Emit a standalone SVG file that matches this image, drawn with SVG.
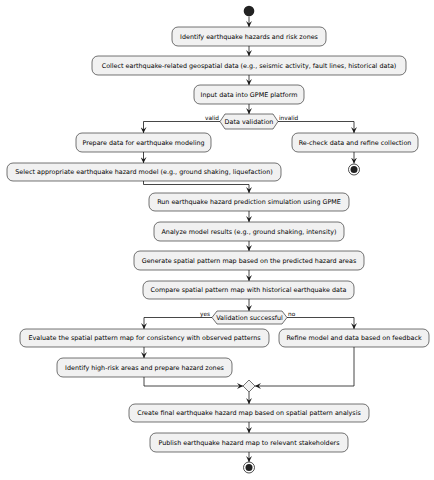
<svg xmlns="http://www.w3.org/2000/svg" width="434" height="480" viewBox="0 0 434 480">
<defs>
<style>
.box{fill:#F1F1F1;stroke:#181818;stroke-width:0.6}
.t{font-family:"DejaVu Sans",sans-serif;font-size:6.4px;fill:#000;text-anchor:middle}
.lbl{font-family:"DejaVu Sans",sans-serif;font-size:5.8px;fill:#000}
.ln{fill:none;stroke:#181818;stroke-width:0.8}
</style>
<marker id="ah" viewBox="0 0 10 10" refX="10" refY="5" markerWidth="6" markerHeight="6" markerUnits="userSpaceOnUse" orient="auto">
<path d="M0,0 L10,5 L0,10 L4,5 Z" fill="#181818"/>
</marker>
</defs>
<rect width="434" height="480" fill="#FFFFFF"/>
<g id="connectors" class="ln">
<line x1="249" y1="16.5" x2="249" y2="27" marker-end="url(#ah)"/>
<line x1="249" y1="46" x2="249" y2="56" marker-end="url(#ah)"/>
<line x1="249" y1="75" x2="249" y2="85" marker-end="url(#ah)"/>
<line x1="249" y1="104" x2="249" y2="114" marker-end="url(#ah)"/>
<polyline points="220,121.5 143.5,121.5 143.5,133" marker-end="url(#ah)"/>
<polyline points="278,121.5 354,121.5 354,133" marker-end="url(#ah)"/>
<line x1="354" y1="152" x2="354" y2="163.5" marker-end="url(#ah)"/>
<line x1="143.5" y1="152" x2="143.5" y2="163" marker-end="url(#ah)"/>
<polyline points="143.5,181 143.5,184.5 249,184.5 249,193" marker-end="url(#ah)"/>
<line x1="249" y1="211" x2="249" y2="222" marker-end="url(#ah)"/>
<line x1="249" y1="241" x2="249" y2="251" marker-end="url(#ah)"/>
<line x1="249" y1="270" x2="249" y2="281" marker-end="url(#ah)"/>
<line x1="249" y1="299" x2="249" y2="311" marker-end="url(#ah)"/>
<polyline points="212,317.5 144,317.5 144,329" marker-end="url(#ah)"/>
<polyline points="287,317.5 354,317.5 354,329" marker-end="url(#ah)"/>
<line x1="144" y1="347" x2="144" y2="358" marker-end="url(#ah)"/>
<polyline points="144,377 144,386 243,386" marker-end="url(#ah)"/>
<polyline points="354,347 354,386 255,386" marker-end="url(#ah)"/>
<line x1="249" y1="392" x2="249" y2="404" marker-end="url(#ah)"/>
<line x1="249" y1="422" x2="249" y2="433" marker-end="url(#ah)"/>
<line x1="249" y1="452" x2="249" y2="462" marker-end="url(#ah)"/>
</g>
<g id="start"><circle cx="249" cy="11" r="5.3" fill="#222222"/></g>
<g id="n1"><rect class="box" x="172" y="27" width="154" height="19" rx="6"/><text class="t" x="249" y="38.8">Identify earthquake hazards and risk zones</text></g>
<g id="n2"><rect class="box" x="92" y="56" width="314" height="19" rx="6"/><text class="t" x="249" y="67.8">Collect earthquake-related geospatial data (e.g., seismic activity, fault lines, historical data)</text></g>
<g id="n3"><rect class="box" x="194" y="85" width="110" height="19" rx="6"/><text class="t" x="249" y="96.8">Input data into GPME platform</text></g>
<g id="d1"><polygon class="box" points="220,121.5 225,114 273,114 278,121.5 273,129 225,129"/><text class="t" x="249" y="123.8">Data validation</text>
<text class="lbl" x="219" y="119.5" text-anchor="end">valid</text><text class="lbl" x="279" y="119.5">invalid</text></g>
<g id="n4"><rect class="box" x="76" y="133" width="135" height="19" rx="6"/><text class="t" x="143.5" y="144.8">Prepare data for earthquake modeling</text></g>
<g id="n5"><rect class="box" x="292" y="133" width="126" height="19" rx="6"/><text class="t" x="355" y="144.8">Re-check data and refine collection</text></g>
<g id="end1"><circle cx="354" cy="169.5" r="5.5" fill="none" stroke="#222222" stroke-width="0.8"/><circle cx="354" cy="169.5" r="3.5" fill="#222222"/></g>
<g id="n6"><rect class="box" x="7" y="163" width="274" height="18" rx="6"/><text class="t" x="144" y="174.3">Select appropriate earthquake hazard model (e.g., ground shaking, liquefaction)</text></g>
<g id="n7"><rect class="box" x="149" y="193" width="200" height="18" rx="6"/><text class="t" x="249" y="204.3">Run earthquake hazard prediction simulation using GPME</text></g>
<g id="n8"><rect class="box" x="154" y="222" width="190" height="19" rx="6"/><text class="t" x="249" y="233.8">Analyze model results (e.g., ground shaking, intensity)</text></g>
<g id="n9"><rect class="box" x="134" y="251" width="230" height="19" rx="6"/><text class="t" x="249" y="262.8">Generate spatial pattern map based on the predicted hazard areas</text></g>
<g id="n10"><rect class="box" x="143" y="281" width="211" height="18" rx="6"/><text class="t" x="248.5" y="292.3">Compare spatial pattern map with historical earthquake data</text></g>
<g id="d2"><polygon class="box" points="212,317.5 217,311 282,311 287,317.5 282,324 217,324"/><text class="t" x="249.5" y="319.8">Validation successful</text>
<text class="lbl" x="210" y="315.5" text-anchor="end">yes</text><text class="lbl" x="288" y="315.5">no</text></g>
<g id="n11"><rect class="box" x="20" y="329" width="249" height="18" rx="6"/><text class="t" x="144.5" y="340.3">Evaluate the spatial pattern map for consistency with observed patterns</text></g>
<g id="n12"><rect class="box" x="279" y="329" width="150" height="18" rx="6"/><text class="t" x="354" y="340.3">Refine model and data based on feedback</text></g>
<g id="n13"><rect class="box" x="57" y="358" width="175" height="19" rx="6"/><text class="t" x="144.5" y="369.8">Identify high-risk areas and prepare hazard zones</text></g>
<g id="merge"><polygon class="box" points="249,380 255,386 249,392 243,386"/></g>
<g id="n14"><rect class="box" x="129" y="404" width="240" height="18" rx="6"/><text class="t" x="249" y="415.3">Create final earthquake hazard map based on spatial pattern analysis</text></g>
<g id="n15"><rect class="box" x="150" y="433" width="198" height="19" rx="6"/><text class="t" x="249" y="444.8">Publish earthquake hazard map to relevant stakeholders</text></g>
<g id="end2"><circle cx="249" cy="467.5" r="5.5" fill="none" stroke="#222222" stroke-width="0.8"/><circle cx="249" cy="467.5" r="3.5" fill="#222222"/></g>
</svg>
